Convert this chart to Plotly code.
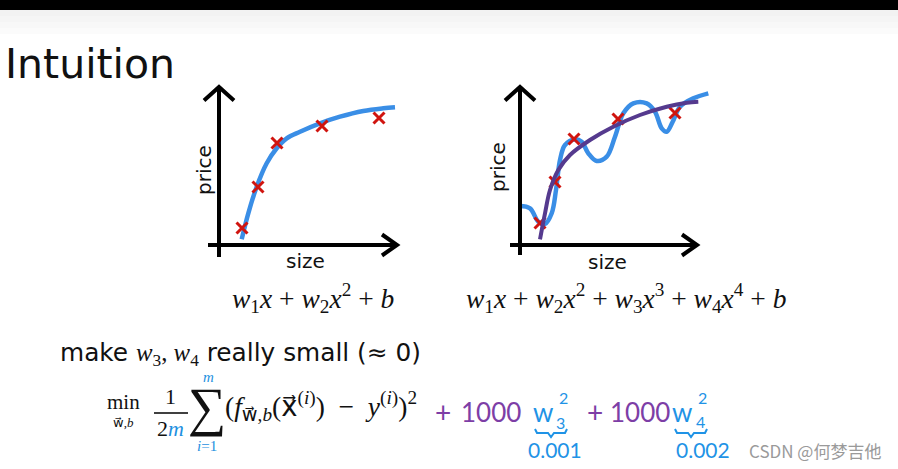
import plotly.graph_objects as go

W, H = 898, 469

# ---------------- data (size, price in arbitrary units) ----------------
left_size_pts = [2.3, 3.9, 5.8, 10.3, 16.0]
left_price_pts = [1.7, 5.8, 10.2, 11.9, 12.7]
left_fit_size = [2.27, 2.93, 3.77, 4.77, 5.77, 6.77, 8.1, 10.1, 12.1, 14.43, 16.43, 17.6]
left_fit_price = [0.57, 3.17, 5.83, 8.17, 9.67, 10.67, 11.33, 12.17, 12.83, 13.4, 13.67, 13.77]

right_size_pts = [2.0, 3.5, 5.4, 9.8, 15.5]
right_price_pts = [2.2, 6.3, 10.6, 12.6, 13.2]
right_overfit_size = [0, 1.0, 1.83, 2.5, 3.17, 3.6, 4.0, 4.5, 5.5, 6.17, 6.83, 7.67, 8.67,
                      9.5, 10.33, 11.33, 12.67, 13.5, 14.17, 14.67, 15.27, 16.0, 17.33, 18.83]
right_overfit_price = [3.9, 3.67, 2.33, 2.1, 3.17, 5.5, 8.5, 10.0, 10.57, 10.33, 9.17, 8.4, 8.83,
                       10.83, 13.17, 14.17, 14.17, 13.33, 11.67, 11.33, 12.33, 13.83, 14.67, 15.17]
right_reg_size = [2.0, 2.5, 3.0, 3.83, 5.0, 7.0, 9.33, 12.0, 14.67, 16.67, 17.83]
right_reg_price = [0.57, 3.17, 5.5, 7.5, 9.0, 10.5, 11.83, 13.0, 13.83, 14.23, 14.33]

RED = "#d0140f"
BLUE = "#3a8ee6"
PURPLE = "#553a8e"
HAND_PURPLE = "#7d3ea6"
HAND_BLUE = "#1f93e6"
TEXT_BLUE = "#1e90e0"


def px(x):
    return x / W


def py(y):
    return 1 - y / H


fig = go.Figure()

# left chart
fig.add_trace(go.Scatter(x=left_fit_size, y=left_fit_price, mode="lines",
                         line=dict(color=BLUE, width=4.5, shape="spline", smoothing=1.0),
                         xaxis="x", yaxis="y", hoverinfo="skip"))
fig.add_trace(go.Scatter(x=left_size_pts, y=left_price_pts, mode="markers",
                         marker=dict(symbol="x-thin", size=11, line=dict(color=RED, width=3)),
                         xaxis="x", yaxis="y"))
# right chart
fig.add_trace(go.Scatter(x=right_overfit_size, y=right_overfit_price, mode="lines",
                         line=dict(color=BLUE, width=4.5, shape="spline", smoothing=1.0),
                         xaxis="x2", yaxis="y2", hoverinfo="skip"))
fig.add_trace(go.Scatter(x=right_size_pts, y=right_price_pts, mode="markers",
                         marker=dict(symbol="x-thin", size=11, line=dict(color=RED, width=3)),
                         xaxis="x2", yaxis="y2"))
fig.add_trace(go.Scatter(x=right_reg_size, y=right_reg_price, mode="lines",
                         line=dict(color=PURPLE, width=4, shape="spline", smoothing=1.0),
                         xaxis="x2", yaxis="y2", hoverinfo="skip"))

ax_common = dict(visible=False, range=[-2, 20], fixedrange=True)
ay_common = dict(visible=False, range=[-2, 16.5], fixedrange=True,
                 domain=[py(265), py(80)])

shapes = []
# black bar on top + faint grey fade
shapes.append(dict(type="rect", xref="paper", yref="paper", x0=0, x1=1, y0=py(10), y1=1,
                   fillcolor="black", line=dict(width=0), layer="below"))
for i, c in enumerate(["#f2f2f2", "#f5f5f5", "#f8f8f8", "#fbfbfb"]):
    shapes.append(dict(type="rect", xref="paper", yref="paper", x0=0, x1=1,
                       y0=py(10 + 6 * (i + 1)), y1=py(10 + 6 * i),
                       fillcolor=c, line=dict(width=0), layer="below"))


def axes_shapes(xr, yr, ybot, xleft, ytop, xright):
    s = []
    lw = 4
    s.append(dict(type="line", xref=xr, yref=yr, x0=0, x1=0, y0=ybot, y1=ytop - 0.2,
                  line=dict(color="black", width=lw)))
    s.append(dict(type="line", xref=xr, yref=yr, x0=xleft, x1=xright - 0.2, y0=0, y1=0,
                  line=dict(color="black", width=lw)))
    s.append(dict(type="path", xref=xr, yref=yr,
                  path=f"M -1.5,{ytop-1.35} L 0,{ytop} L 1.5,{ytop-1.35}",
                  line=dict(color="black", width=lw)))
    s.append(dict(type="path", xref=xr, yref=yr,
                  path=f"M {xright-1.5},1.05 L {xright},0 L {xright-1.5},-1.05",
                  line=dict(color="black", width=lw)))
    return s


shapes += axes_shapes("x", "y", -1.2, -1.1, 15.8, 17.8)
shapes += axes_shapes("x2", "y2", -1.0, -1.0, 15.8, 17.7)

# fraction bar
shapes.append(dict(type="line", xref="paper", yref="paper", x0=px(154), x1=px(188),
                   y0=py(413), y1=py(413), line=dict(color="black", width=1.5)))


def brace(x0, x1, y):
    m = (x0 + x1) / 2
    pts = [(x0, y - 4), (x0 + 2, y), (m - 3, y), (m, y + 4), (m + 3, y), (x1 - 2, y), (x1, y - 4)]
    d = "M " + " L ".join(f"{px(a):.5f},{py(b):.5f}" for a, b in pts)
    return dict(type="path", xref="paper", yref="paper", path=d,
                line=dict(color=HAND_BLUE, width=2))


shapes.append(brace(535, 567, 433))
shapes.append(brace(675, 707, 433))

ann = []


def T(text, x, y, size, family="DejaVu Sans", color="#111", xanchor="center",
      yanchor="middle", angle=0):
    ann.append(dict(text=text, x=px(x), y=py(y), xref="paper", yref="paper",
                    xanchor=xanchor, yanchor=yanchor, showarrow=False, textangle=angle,
                    font=dict(size=size, family=family, color=color)))


SERIF = "Liberation Serif"
VEC = "<span style='font-family:DejaVu Sans'>{}\u20d7</span>"
T("Intuition", 3, 64, 41, xanchor="left")
T("price", 204, 170, 20, angle=-90)
T("size", 305, 261, 20)
T("price", 498, 167, 20, angle=-90)
T("size", 607, 262, 20)

T("<i>w</i><sub>1</sub><i>x</i> + <i>w</i><sub>2</sub><i>x</i><sup>2</sup> + <i>b</i>",
  313, 298, 27.5, family=SERIF)
T("<i>w</i><sub>1</sub><i>x</i> + <i>w</i><sub>2</sub><i>x</i><sup>2</sup> + "
  "<i>w</i><sub>3</sub><i>x</i><sup>3</sup> + <i>w</i><sub>4</sub><i>x</i><sup>4</sup> + <i>b</i>",
  626, 298, 27.5, family=SERIF)

T("make <span style='font-family:Liberation Serif'><i>w</i><sub>3</sub>, <i>w</i><sub>4</sub></span>"
  " really small (≈ 0)", 58, 354, 24.8, xanchor="left")

# cost function
T("min", 124, 402, 21, family=SERIF)
T(VEC.format("w") + ",<i>b</i>", 124, 422, 13, family=SERIF)
T("1", 170, 396, 22, family=SERIF)
T(f"2<span style='color:{TEXT_BLUE}'><i>m</i></span>", 170, 428, 22, family=SERIF)
T("∑", 207, 407, 54, family=SERIF)
T("<i>m</i>", 208, 377, 15, family=SERIF, color=TEXT_BLUE)
T("<i>i</i>=1", 207, 446, 15, family=SERIF, color=TEXT_BLUE)
T("(<i>f</i><sub>" + VEC.format("w") + ",<i>b</i></sub>(" + VEC.format("x")
  + "<sup>(<i>i</i>)</sup>)  −  <i>y</i><sup>(<i>i</i>)</sup>)<sup>2</sup>",
  223, 406, 27.5, family=SERIF, xanchor="left")

# handwritten regularisation terms
HAND = "Lato"
T("+", 443, 412, 28, family=HAND, color=HAND_PURPLE)
T("1000", 491, 412, 26, family=HAND, color=HAND_PURPLE)
T("w", 543, 412, 26, family=HAND, color=HAND_BLUE)
T("2", 563, 397, 16, family=HAND, color=HAND_BLUE)
T("3", 560, 422, 16, family=HAND, color=HAND_BLUE)
T("0.001", 555, 449, 21, family=HAND, color=HAND_BLUE)
T("+", 595, 412, 28, family=HAND, color=HAND_PURPLE)
T("1000", 640, 412, 26, family=HAND, color=HAND_PURPLE)
T("w", 682, 412, 26, family=HAND, color=HAND_BLUE)
T("2", 702, 397, 16, family=HAND, color=HAND_BLUE)
T("4", 700, 421, 16, family=HAND, color=HAND_BLUE)
T("0.002", 703, 449, 21, family=HAND, color=HAND_BLUE)

T("CSDN @何梦吉他", 815, 450, 17, family="Noto Sans CJK SC", color="#9a9a9a")

fig.update_layout(
    width=W, height=H, autosize=False,
    margin=dict(l=0, r=0, t=0, b=0),
    paper_bgcolor="white", plot_bgcolor="rgba(0,0,0,0)",
    showlegend=False,
    xaxis=dict(domain=[px(199), px(419)], anchor="y", **ax_common),
    yaxis=dict(anchor="x", **ay_common),
    xaxis2=dict(domain=[px(500), px(720)], anchor="y2", **ax_common),
    yaxis2=dict(anchor="x2", **ay_common),
    shapes=shapes,
    annotations=ann,
)

fig.write_html("out.html", config=dict(displayModeBar=False),
               post_script="document.body.style.margin='0';document.body.style.overflow='hidden';")
